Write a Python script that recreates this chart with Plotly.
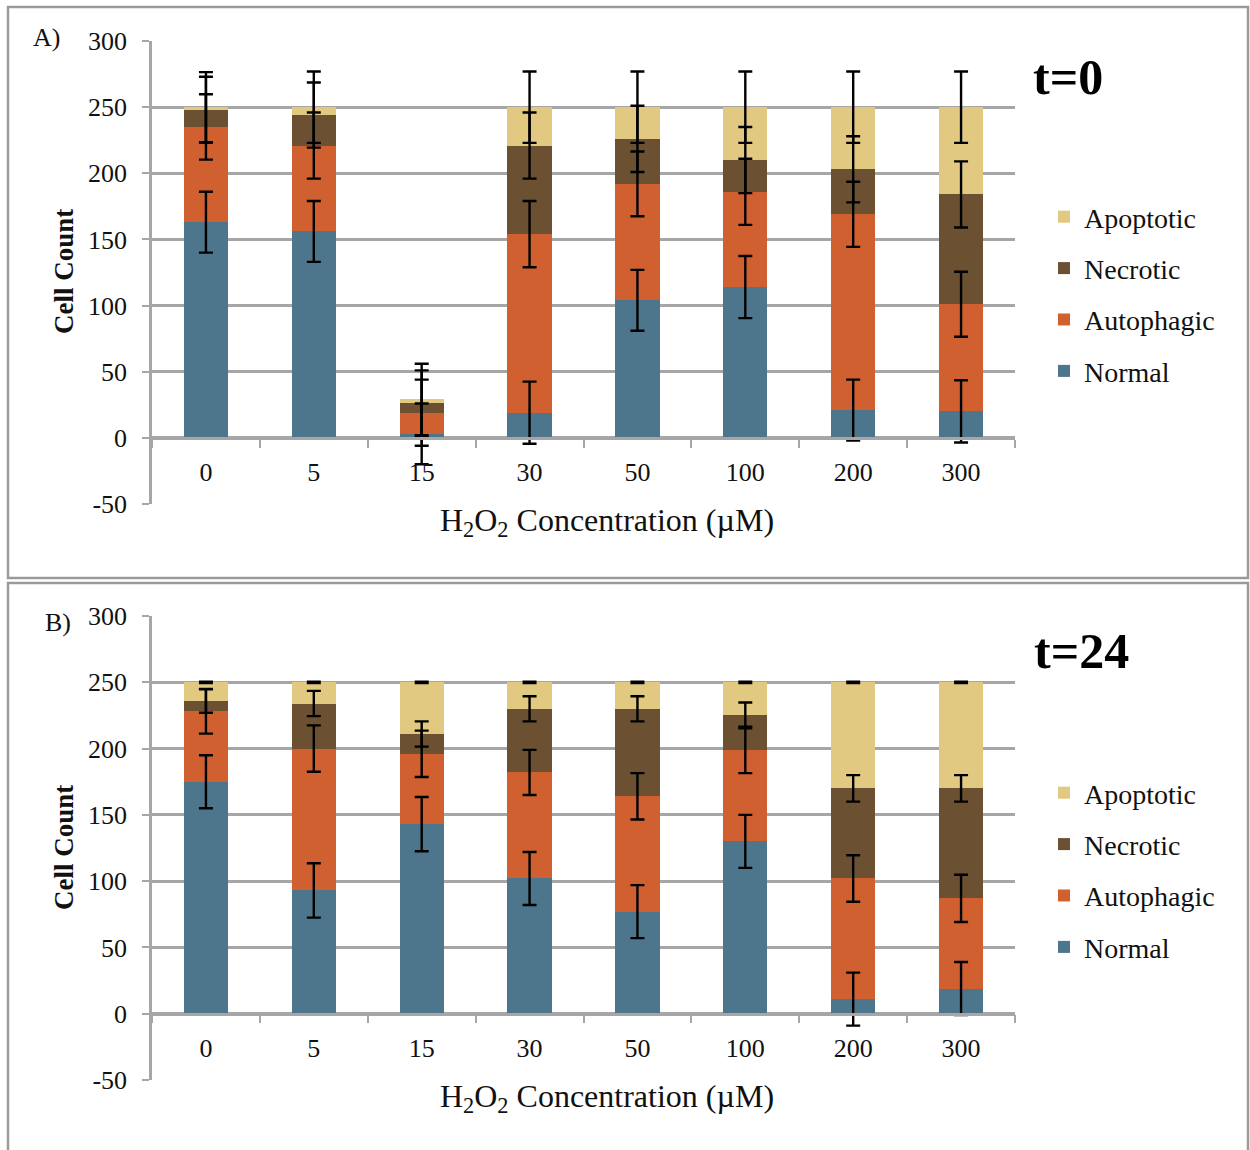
import plotly.graph_objects as go
import numpy as np

# ---------------- data ----------------
concentrations = ["0", "5", "15", "30", "50", "100", "200", "300"]
series_names = ["Normal", "Autophagic", "Necrotic", "Apoptotic"]

# Panel A (t=0)
normal_A = [163, 156, 3, 19, 104, 114, 21, 20]
autophagic_A = [72, 65, 16, 135, 88, 72, 148, 81]
necrotic_A = [13, 23, 7, 67, 34, 24, 34, 83]
apoptotic_A = [2, 6, 3, 29, 24, 40, 47, 66]
err_normal_A = [23, 23, 23, 23.5, 23, 23.5, 23, 23.5]
err_autophagic_A = [24.7, 25, 25, 25, 24.5, 25, 24.6, 24.6]
err_necrotic_A = [25, 24.6, 25, 25, 25, 25, 25, 25]
err_apoptotic_A = [26.5, 27, 27, 27, 27, 27, 27, 27]

# Panel B (t=24)
normal_B = [175, 93, 143, 102, 77, 130, 11, 19]
autophagic_B = [53, 107, 53, 80, 87, 69, 91, 68]
necrotic_B = [8, 34, 15, 48, 66, 26, 68, 83]
apoptotic_B = [14, 16, 39, 20, 20, 25, 80, 80]
err_normal_B = [20, 20.5, 20.5, 20, 20, 20, 20, 20]
err_autophagic_B = [16.7, 17.5, 17.5, 17, 17.5, 17.5, 17.5, 17.8]
err_necrotic_B = [9, 9.5, 9.5, 9.5, 9.5, 9.7, 10, 10]
err_apoptotic_B = [0.5, 0.5, 0.5, 0.5, 0.5, 0.5, 0.5, 0.5]

y_ticks = [-50, 0, 50, 100, 150, 200, 250, 300]
y_tick_labels = ["-50", "0", "50", "100", "150", "200", "250", "300"]
panel_labels = ["A)", "B)"]
time_labels = ["t=0", "t=24"]

# ---------------- style ----------------
colors = {"Normal": "#4d768d", "Autophagic": "#d0602f",
          "Necrotic": "#6b5031", "Apoptotic": "#e2c981"}
FONT = "Liberation Serif, Times New Roman, serif"
GRID = "#a6a6a6"
W, H = 1250, 1150


def fx(px):
    return px / W


def fy(py):
    return 1 - py / H


panels = [
    dict(vals=[normal_A, autophagic_A, necrotic_A, apoptotic_A],
         errs=[err_normal_A, err_autophagic_A, err_necrotic_A, err_apoptotic_A],
         top=41, bottom=504, legend_top=192, xa="x", ya="y", legend="legend"),
    dict(vals=[normal_B, autophagic_B, necrotic_B, apoptotic_B],
         errs=[err_normal_B, err_autophagic_B, err_necrotic_B, err_apoptotic_B],
         top=616, bottom=1080, legend_top=768, xa="x2", ya="y2", legend="legend2"),
]

fig = go.Figure()
x_dom = [fx(152), fx(1015)]
layout_axes = {}

for i, p in enumerate(panels):
    # bars
    for k, (name, v) in enumerate(zip(series_names, p["vals"])):
        fig.add_trace(go.Bar(
            x=concentrations, y=v, name=name,
            marker=dict(color=colors[name], line=dict(width=0)),
            xaxis=p["xa"], yaxis=p["ya"], legend=p["legend"],
            legendgroup=name + str(i), legendrank=10 - k, hoverinfo="skip"))
    # error bars at the top of every stacked segment (drawn above all bars)
    cum = np.zeros(len(concentrations))
    for name, v, e in zip(series_names, p["vals"], p["errs"]):
        cum = cum + np.array(v, dtype=float)
        fig.add_trace(go.Scatter(
            x=concentrations, y=cum.tolist(), mode="markers",
            marker=dict(size=1, color="rgba(0,0,0,0)"),
            error_y=dict(type="data", array=e, visible=True,
                         color="black", thickness=2.4, width=7),
            xaxis=p["xa"], yaxis=p["ya"], showlegend=False, hoverinfo="skip"))

    y_dom = [fy(p["bottom"]), fy(p["top"])]
    zero_pos = y_dom[0] + (y_dom[1] - y_dom[0]) * (50 / 350)
    suffix = "" if i == 0 else "2"
    layout_axes["xaxis" + suffix] = dict(
        domain=x_dom, anchor="free", position=zero_pos, automargin=False,
        type="category", categoryarray=concentrations, categoryorder="array",
        range=[-0.5, 7.5], showgrid=False, zeroline=False,
        showline=True, linecolor=GRID, linewidth=2.5,
        ticks="outside", tickson="boundaries", ticklen=8, tickwidth=2, tickcolor=GRID,
        tickfont=dict(family=FONT, size=26, color="#111"),
        ticklabelstandoff=10, fixedrange=True)
    layout_axes["yaxis" + suffix] = dict(
        domain=y_dom, anchor="x" + ("" if i == 0 else "2"), automargin=False,
        range=[-50, 300], tickvals=y_ticks, ticktext=y_tick_labels,
        showgrid=True, gridcolor=GRID, gridwidth=2.5,
        zeroline=False, showline=True, linecolor=GRID, linewidth=2.5,
        ticks="outside", ticklen=7, tickwidth=2, tickcolor=GRID,
        tickfont=dict(family=FONT, size=26, color="#111"),
        ticklabelstandoff=10, fixedrange=True)

legend_common = dict(xanchor="left", yanchor="top", traceorder="grouped", tracegroupgap=12,
                     font=dict(family=FONT, size=28, color="#111"), bgcolor="rgba(0,0,0,0)")
fig.update_layout(
    width=W, height=H, autosize=False,
    margin=dict(l=0, r=0, t=0, b=0, pad=0, autoexpand=False),
    paper_bgcolor="white", plot_bgcolor="white",
    barmode="stack", bargap=0.59,
    **layout_axes,
    legend=dict(x=fx(1044), y=fy(panels[0]["legend_top"]), **legend_common),
    legend2=dict(x=fx(1044), y=fy(panels[1]["legend_top"]), **legend_common),
)

annotations = []
shapes = []
panel_boxes = [(8, 7, 1248, 578), (8, 583, 1248, 1160)]
title_y = [522, 1098]
label_pos = [(46, 37), (58, 622)]
time_pos = [(1068, 77), (1081, 651)]
ylabel_y = [272, 848]
for i in range(2):
    x0, y0, x1, y1 = panel_boxes[i]
    shapes.append(dict(type="rect", xref="paper", yref="paper",
                       x0=fx(x0), x1=fx(x1), y0=fy(y1), y1=fy(y0),
                       line=dict(color="#9a9a9a", width=2.5), layer="below"))
    # x-axis title (white box masks part of the -50 gridline, as in the original)
    annotations.append(dict(
        text="H<sub>2</sub>O<sub>2</sub> Concentration (µM)",
        xref="paper", yref="paper", x=fx(607), y=fy(title_y[i]),
        xanchor="center", yanchor="middle", showarrow=False,
        width=480, height=48, bgcolor="white",
        font=dict(family=FONT, size=32, color="#111")))
    annotations.append(dict(
        text="<b>Cell Count</b>", textangle=-90,
        xref="paper", yref="paper", x=fx(64), y=fy(ylabel_y[i]),
        xanchor="center", yanchor="middle", showarrow=False,
        font=dict(family=FONT, size=27, color="#111")))
    annotations.append(dict(
        text=panel_labels[i], xref="paper", yref="paper",
        x=fx(label_pos[i][0]), y=fy(label_pos[i][1]),
        xanchor="center", yanchor="middle", showarrow=False,
        font=dict(family=FONT, size=26, color="#111")))
    annotations.append(dict(
        text="<b>" + time_labels[i] + "</b>", xref="paper", yref="paper",
        x=fx(time_pos[i][0]), y=fy(time_pos[i][1]),
        xanchor="center", yanchor="middle", showarrow=False,
        font=dict(family=FONT, size=50, color="#000")))

fig.update_layout(annotations=annotations, shapes=shapes)
fig.write_html("out.html")
